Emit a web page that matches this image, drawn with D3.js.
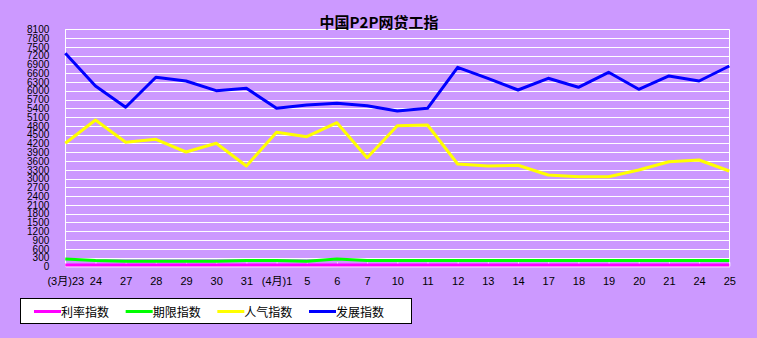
<!DOCTYPE html>
<html>
<head>
<meta charset="utf-8">
<script src="https://cdn.jsdelivr.net/npm/d3@7"></script>
<style>
  html, body { margin: 0; padding: 0; background: #CC99FF; }
  svg { display: block; }
</style>
</head>
<body>
<svg id="chart" width="757" height="338"></svg>
<script>
// ---- data ----
const categories = ["(3月)23","24","27","28","29","30","31","(4月)1","5","6","7","10","11","12","13","14","17","18","19","20","21","24","25"];
const rateIndex = [50,50,50,50,50,50,50,50,50,50,50,50,50,50,50,50,50,50,50,50,50,50,50];
const termIndex = [250,200,175,175,175,175,205,205,175,250,205,205,205,205,205,205,205,205,205,205,205,205,205];
const popularityIndex = [4206,5002,4240,4342,3908,4206,3430,4581,4431,4909,3714,4807,4831,3498,3430,3454,3123,3065,3065,3294,3577,3635,3259];
const developIndex = [7280,6163,5436,6461,6334,6003,6085,5401,5514,5572,5490,5309,5401,6802,6426,6027,6426,6119,6631,6051,6505,6334,6847];
const yTicks = d3.range(0, 8101, 300);
const seriesNames = ["利率指数","期限指数","人气指数","发展指数"];
const seriesColors = ["#FF00FF","#00FF00","#FFFF00","#0000FF"];
const title = "中国P2P网贷工指";

(function () {
// ---- layout ----
const svg = d3.select("#chart");
const W = 757, H = 338;
const pLeft = 65.3, pRight = 729.3, pTop = 29.3, pBottom = 266.4;

svg.append("rect").attr("width", W).attr("height", H).attr("fill", "#CC99FF");

const x = d3.scalePoint().domain(d3.range(categories.length)).range([pLeft, pRight]);
const y = d3.scaleLinear().domain([0, 8100]).range([pBottom, pTop]);

// gridlines
svg.append("g").selectAll("line").data(yTicks).join("line")
  .attr("x1", pLeft).attr("x2", pRight)
  .attr("y1", d => Math.round(y(d)) + 0.5).attr("y2", d => Math.round(y(d)) + 0.5)
  .attr("stroke", "#FFFFFF").attr("stroke-width", 1);

// vertical borders
[pLeft, pRight].forEach(px => {
  svg.append("line").attr("x1", Math.round(px) + 0.5).attr("x2", Math.round(px) + 0.5)
    .attr("y1", pTop).attr("y2", pBottom).attr("stroke", "#FFFFFF");
});

// y axis
const yAxis = svg.append("g").attr("transform", `translate(${pLeft},0)`)
  .call(d3.axisLeft(y).tickValues(yTicks).tickSize(0).tickPadding(16).tickFormat(d3.format("d")));
yAxis.select(".domain").remove();
yAxis.selectAll("text").attr("font-family", "'Liberation Sans', Arial, sans-serif")
  .attr("font-size", 10).attr("fill", "#000");

// x axis
const xAxis = svg.append("g").attr("transform", `translate(0,${pBottom})`)
  .call(d3.axisBottom(x).tickSizeInner(-4).tickSizeOuter(0).tickPadding(10.5).tickFormat(i => categories[i]));
xAxis.select(".domain").attr("stroke", "#FFFFFF");
xAxis.selectAll(".tick line").attr("stroke", "#FFFFFF");
xAxis.selectAll("text").attr("font-family", "'Liberation Sans', 'Noto Sans CJK SC', sans-serif")
  .attr("font-size", 11).attr("fill", "#000");

// lines
const allSeries = [rateIndex, termIndex, popularityIndex, developIndex];
const line = d3.line().x((d, i) => x(i)).y(d => y(d));
allSeries.forEach((s, k) => {
  svg.append("path").datum(s).attr("d", line)
    .attr("fill", "none").attr("stroke", seriesColors[k]).attr("stroke-width", 3)
    .attr("stroke-linejoin", "round");
});

// title
svg.append("text").attr("x", 379).attr("y", 21.5).attr("text-anchor", "middle")
  .attr("dominant-baseline", "central")
  .attr("font-family", "'Noto Sans CJK SC', sans-serif").attr("font-weight", "bold")
  .attr("font-size", 15).attr("fill", "#000").text(title);

// legend
const lg = svg.append("g");
lg.append("rect").attr("x", 20.5).attr("y", 298.5).attr("width", 391).attr("height", 25)
  .attr("fill", "#FFFFFF").attr("stroke", "#000000").attr("stroke-width", 1);
const legendX = d3.scalePoint().domain(d3.range(seriesNames.length)).range([34, 309]);
seriesNames.forEach((name, k) => {
  const lx = legendX(k);
  lg.append("line").attr("x1", lx).attr("x2", lx + 27).attr("y1", 311.5).attr("y2", 311.5)
    .attr("stroke", seriesColors[k]).attr("stroke-width", 3);
  lg.append("text").attr("x", lx + 27).attr("y", 311.5).attr("dominant-baseline", "central")
    .attr("font-family", "'Noto Sans CJK SC', sans-serif").attr("font-size", 12)
    .attr("fill", "#000").text(name);
});
})();
</script>
</body>
</html>
